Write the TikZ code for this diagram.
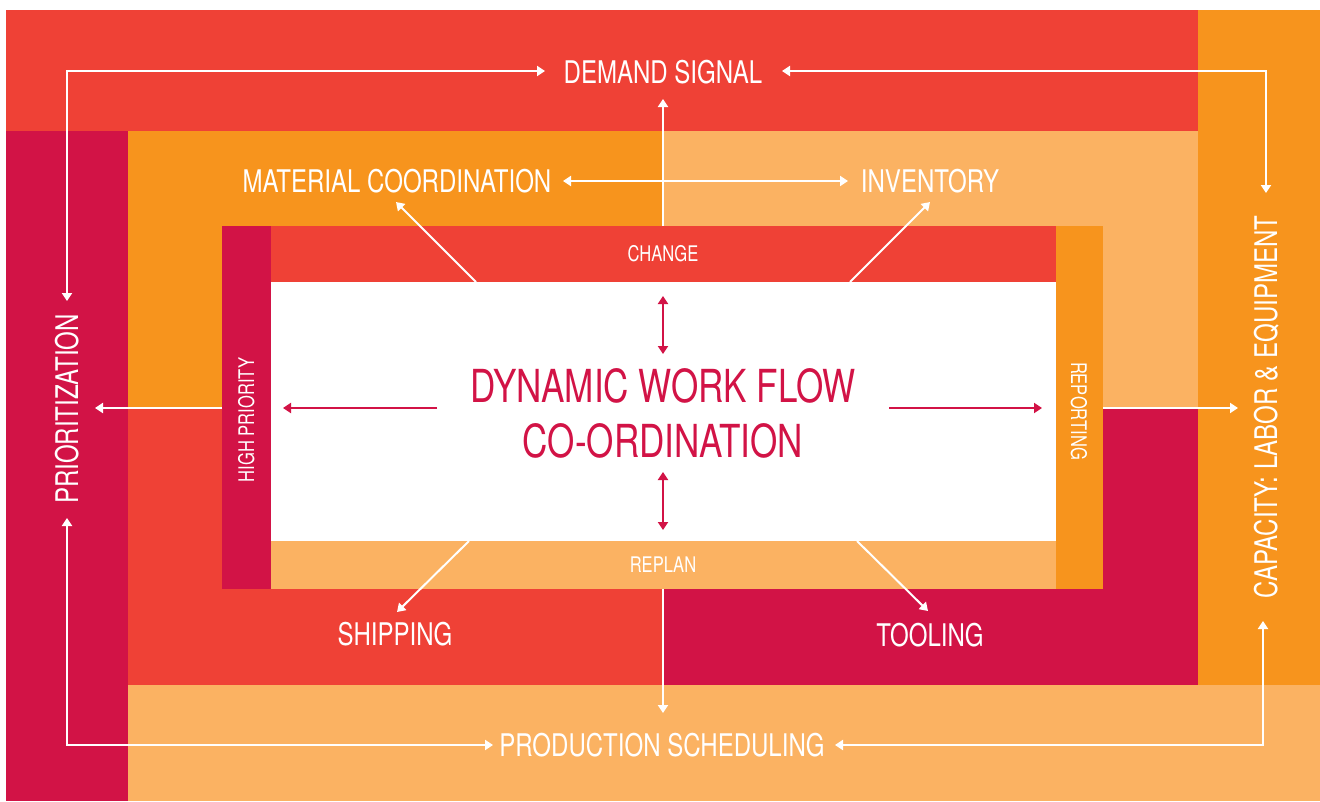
\documentclass[tikz,border=0pt]{standalone}
\usepackage{fontspec}
\setmainfont{TeX Gyre Heros}[FakeStretch=0.77]
\usetikzlibrary{arrows.meta}
\definecolor{cred}{HTML}{EF4136}
\definecolor{corange}{HTML}{F7941D}
\definecolor{ccrimson}{HTML}{D21346}
\definecolor{clight}{HTML}{FBB262}
\begin{document}
\begin{tikzpicture}[x=1pt,y=-1pt,
  wline/.style={draw=white, line width=2pt},
  cline/.style={draw=ccrimson, line width=2pt},
  tipone/.style={-{Triangle[length=8pt,width=10pt]}},
  tipboth/.style={{Triangle[length=8pt,width=10pt]}-{Triangle[length=8pt,width=10pt]}},
  biglabel/.style={text=white, inner sep=0pt, anchor=base, font=\fontsize{31.2}{36}\selectfont},
  barlabel/.style={text=white, inner sep=0pt, anchor=base, font=\fontsize{21.5}{25}\selectfont},
  centerlabel/.style={text=ccrimson, inner sep=0pt, align=center, font=\fontsize{45.5}{55}\selectfont}]
\useasboundingbox (0,0) rectangle (1320,801);
\fill[white] (0,0) rectangle (1320,801);
% outer ring
\fill[cred] (6,10) rectangle (1198,131);
\fill[corange] (1198,10) rectangle (1320,685);
\fill[ccrimson] (6,131) rectangle (128,801);
\fill[clight] (128,685) rectangle (1320,801);
% middle ring
\fill[corange] (128,131) rectangle (663,408);
\fill[clight] (663,131) rectangle (1198,408);
\fill[cred] (128,408) rectangle (663,685);
\fill[ccrimson] (663,408) rectangle (1198,685);
% inner box
\fill[ccrimson] (222,226) rectangle (271,589);
\fill[cred] (271,226) rectangle (1056,282);
\fill[corange] (1056,226) rectangle (1103,589);
\fill[clight] (271,541) rectangle (1056,589);
\fill[white] (271,282) rectangle (1056,541);

% labels
\node[biglabel] (demand) at (663,83) {DEMAND SIGNAL};
\node[biglabel] (material) at (397,192) {MATERIAL COORDINATION};
\node[biglabel] (inventory) at (930,192) {INVENTORY};
\node[biglabel] (shipping) at (395,645) {SHIPPING};
\node[biglabel] (tooling) at (930,646) {TOOLING};
\node[biglabel] (production) at (662,756) {PRODUCTION SCHEDULING};
\node[biglabel, rotate=90] (prio) at (78,409) {PRIORITIZATION};
\node[biglabel, rotate=90] (capacity) at (1277,407) {CAPACITY: LABOR \& EQUIPMENT};
\node[barlabel] (change) at (663,261) {CHANGE};
\node[barlabel] (replan) at (663,572) {REPLAN};
\node[barlabel, rotate=90] (high) at (254,420) {HIGH PRIORITY};
\node[barlabel, rotate=-90] (reporting) at (1071,411) {REPORTING};
\node[centerlabel] (dwf) at (663,413.5) {DYNAMIC WORK FLOW\\CO-ORDINATION};

% connector ends
\coordinate (ds-l) at (545,71);
\coordinate (ds-r) at (782,71);
\coordinate (ds-b) at (663,99);
\coordinate (pr-t) at (67,301);
\coordinate (pr-b) at (67,518);
\coordinate (pr-r) at (95,408);
\coordinate (cap-t) at (1266,193);
\coordinate (cap-b) at (1263,621);
\coordinate (cap-l) at (1238,408);
\coordinate (ps-l) at (493,745);
\coordinate (ps-r) at (835,745);
\coordinate (ps-t) at (663,713);
\coordinate (mc-r) at (563,181);
\coordinate (inv-l) at (848,181);
\coordinate (mc-arr) at (396,202);
\coordinate (inv-arr) at (930,202);
\coordinate (sh-arr) at (397,612);
\coordinate (to-arr) at (928,611);
\coordinate (chg-t) at (663,226);
\coordinate (chg-l) at (476,282);
\coordinate (chg-r) at (850,282);
\coordinate (rep-b) at (663,589);
\coordinate (rep-l) at (469,541);
\coordinate (rep-r) at (857,541);
\coordinate (hp-l) at (222,408);
\coordinate (rpt-r) at (1103,408);
\coordinate (cu1) at (663,296);
\coordinate (cu2) at (663,354);
\coordinate (cd1) at (663,472);
\coordinate (cd2) at (663,530);
\coordinate (cl1) at (437,408);
\coordinate (cl2) at (283,408);
\coordinate (cr1) at (889,408);
\coordinate (cr2) at (1042,408);

% white connectors
\draw[wline, tipboth] (pr-t) |- (ds-l);
\draw[wline, tipboth] (ds-r) -| (cap-t);
\draw[wline, tipboth] (pr-b) |- (ps-l);
\draw[wline, tipboth] (ps-r) -| (cap-b);
\draw[wline, tipone] (chg-t) -- (ds-b);
\draw[wline, tipboth] (mc-r) -- (inv-l);
\draw[wline, tipone] (chg-l) -- (mc-arr);
\draw[wline, tipone] (chg-r) -- (inv-arr);
\draw[wline, tipone] (rep-l) -- (sh-arr);
\draw[wline, tipone] (rep-r) -- (to-arr);
\draw[wline, tipone] (rep-b) -- (ps-t);
\draw[wline, tipone] (hp-l) -- (pr-r);
\draw[wline, tipone] (rpt-r) -- (cap-l);

% crimson connectors
\draw[cline, tipboth] (cu1) -- (cu2);
\draw[cline, tipboth] (cd1) -- (cd2);
\draw[cline, tipone] (cl1) -- (cl2);
\draw[cline, tipone] (cr1) -- (cr2);
\end{tikzpicture}
\end{document}
